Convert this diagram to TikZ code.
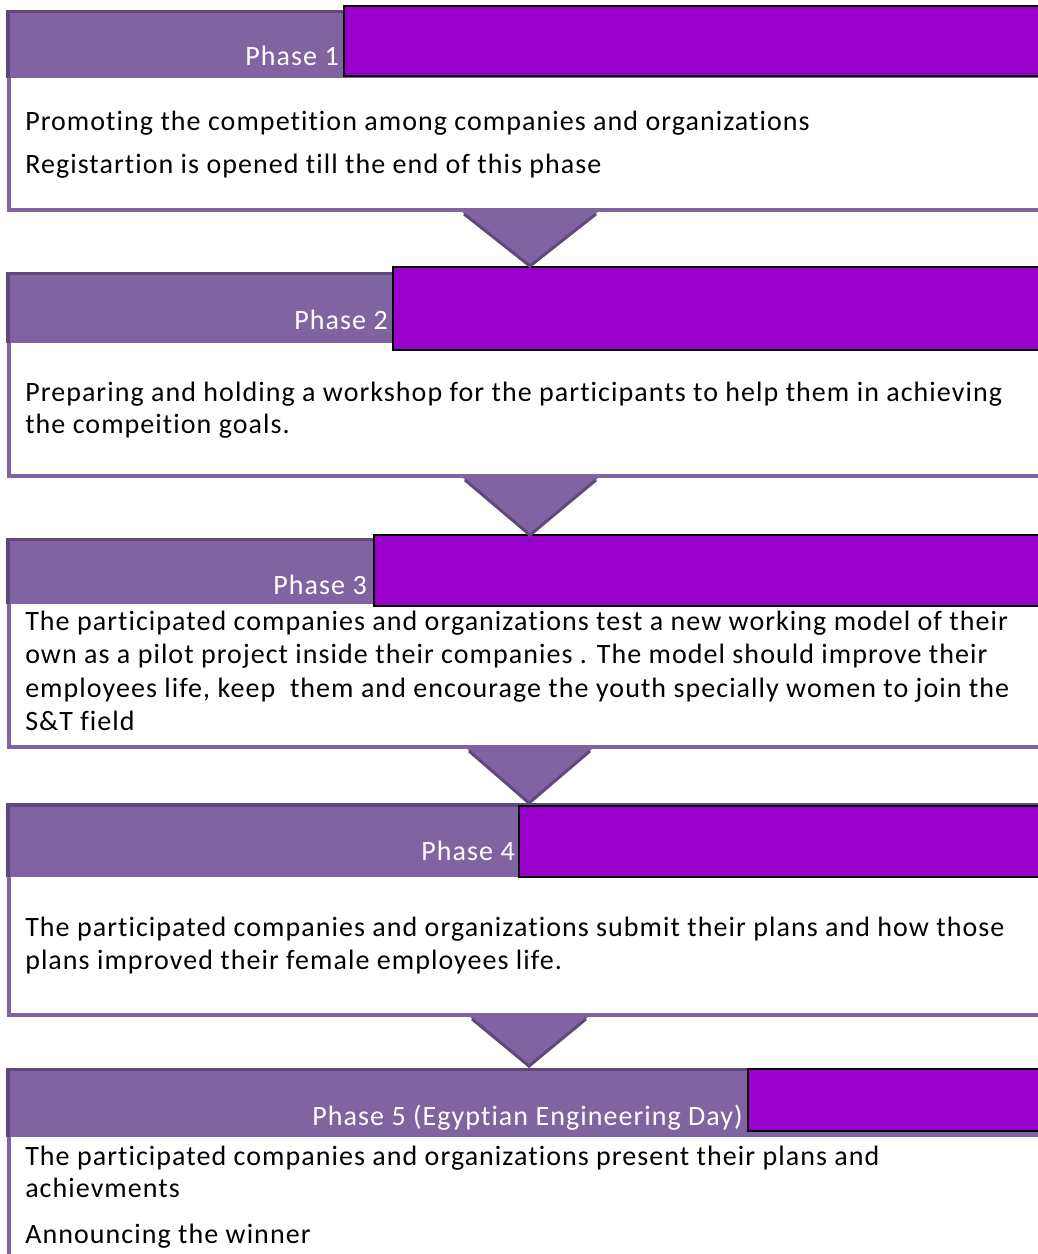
\documentclass[tikz,border=0pt]{standalone}
\usepackage{fontspec}
\usetikzlibrary{calc}
\setmainfont{Carlito}
\newfontfamily\bodyfont[LetterSpace=3.8,Ligatures=NoCommon]{Carlito}
\definecolor{hdr}{HTML}{8064A2}
\definecolor{hdrdark}{HTML}{5F497A}
\definecolor{brt}{HTML}{9900CC}
\begin{document}
\begin{tikzpicture}[x=0.75pt,y=-0.75pt,
  hdrband/.style={fill=hdr},
  hdredge/.style={draw=hdrdark,line width=2.6pt},
  brtbox/.style={fill=brt,draw=black,line width=1.2pt},
  bodybox/.style={fill=white},
  bodyedge/.style={fill=hdr},
  lbl/.style={anchor=base east,inner sep=0,text=white,font=\bodyfont\fontsize{21}{25}\selectfont},
  txt/.style={anchor=base west,inner sep=0,font=\bodyfont\fontsize{21}{25}\selectfont},
  tri/.style={fill=hdr},
  triedge/.style={draw=hdrdark,line width=2.2pt,line join=miter}]
\useasboundingbox (0,0) rectangle (1038,1254);
\fill[white] (0,0) rectangle (1038,1254);

% ---------- Phase 1 ----------
\fill[bodybox] (7,78) rectangle (1045,212);
\fill[bodyedge] (7,78) rectangle (10.5,212);
\fill[bodyedge] (7,207.5) rectangle (1045,212);
\fill[hdrband] (7,10) rectangle (1045,78);
\draw[hdredge] (7,11.5) -- (1045,11.5);
\draw[hdredge] (8,10) -- (8,78);
\draw[brtbox] (344,6) rectangle (1050,76);
\node[lbl] (p1) at (339,65) {Phase 1};
\node[txt] (t11) at (25,130) {Promoting the competition among companies and organizations};
\node[txt] (t12) at (25,173) {Registartion is opened till the end of this phase};

% ---------- Phase 2 ----------
\fill[bodybox] (7,343) rectangle (1045,478);
\fill[bodyedge] (7,343) rectangle (10.5,478);
\fill[bodyedge] (7,473.5) rectangle (1045,478);
\fill[hdrband] (7,272) rectangle (1045,343);
\draw[hdredge] (7,273.5) -- (1045,273.5);
\draw[hdredge] (8,272) -- (8,343);
\draw[brtbox] (393,267) rectangle (1050,350);
\node[lbl] (p2) at (388,329) {Phase 2};
\node[txt] (t21) at (25,401) {Preparing and holding a workshop for the participants to help them in achieving};
\node[txt] (t22) at (25,433) {the compeition goals.};

% ---------- Phase 3 ----------
\fill[bodybox] (7,604) rectangle (1045,749);
\fill[bodyedge] (7,604) rectangle (10.5,749);
\fill[bodyedge] (7,744.5) rectangle (1045,749);
\fill[hdrband] (7,538) rectangle (1045,604);
\draw[hdredge] (7,539.5) -- (1045,539.5);
\draw[hdredge] (8,538) -- (8,604);
\draw[brtbox] (374,535) rectangle (1050,606);
\node[lbl] (p3) at (367,594) {Phase 3};
\node[txt] (t31) at (25,630) {The participated companies and organizations test a new working model of their};
\node[txt] (t32) at (25,663) {own as a pilot project inside their companies . The model should improve their};
\node[txt] (t33) at (25,697) {employees life, keep\ \ them and encourage the youth specially women to join the};
\node[txt] (t34) at (25,730) {S\&T field};

% ---------- Phase 4 ----------
\fill[bodybox] (7,877) rectangle (1045,1017);
\fill[bodyedge] (7,877) rectangle (10.5,1017);
\fill[bodyedge] (7,1012.5) rectangle (1045,1017);
\fill[hdrband] (7,803) rectangle (1045,877);
\draw[hdredge] (7,805) -- (1045,805);
\draw[hdredge] (8,803) -- (8,877);
\draw[brtbox] (519,806) rectangle (1050,877);
\node[lbl] (p4) at (515,860) {Phase 4};
\node[txt] (t41) at (25,936) {The participated companies and organizations submit their plans and how those};
\node[txt] (t42) at (25,969) {plans improved their female employees life.};

% ---------- Phase 5 ----------
\fill[bodybox] (7,1137) rectangle (1045,1260);
\fill[bodyedge] (7,1137) rectangle (10.5,1260);
\fill[hdrband] (7,1068) rectangle (1045,1137);
\draw[hdredge] (7,1069.5) -- (1045,1069.5);
\draw[hdredge] (8,1068) -- (8,1137);
\draw[brtbox] (748,1069) rectangle (1050,1131);
\node[lbl] (p5) at (743,1125) {Phase 5 (Egyptian Engineering Day)};
\node[txt] (t51) at (25,1165) {The participated companies and organizations present their plans and};
\node[txt] (t52) at (25,1197) {achievments};
\node[txt] (t53) at (25,1243) {Announcing the winner};

% ---------- Arrows between phases ----------
\coordinate (a1l) at (462,212); \coordinate (a1r) at (598,212); \coordinate (a1b) at (530,268);
\coordinate (a2l) at (463,478); \coordinate (a2r) at (598,478); \coordinate (a2b) at (530,537);
\coordinate (a3l) at (467,749); \coordinate (a3r) at (592,749); \coordinate (a3b) at (529,805);
\coordinate (a4l) at (470,1017); \coordinate (a4r) at (588,1017); \coordinate (a4b) at (529,1068);
\foreach \i in {1,2,3,4}{
  \fill[tri] (a\i l) -- (a\i r) -- (a\i b) -- cycle;
  \draw[triedge] ($(a\i l)+(2,2)$) -- ($(a\i b)+(0,-2)$) -- ($(a\i r)+(-2,2)$);
}
\end{tikzpicture}
\end{document}
